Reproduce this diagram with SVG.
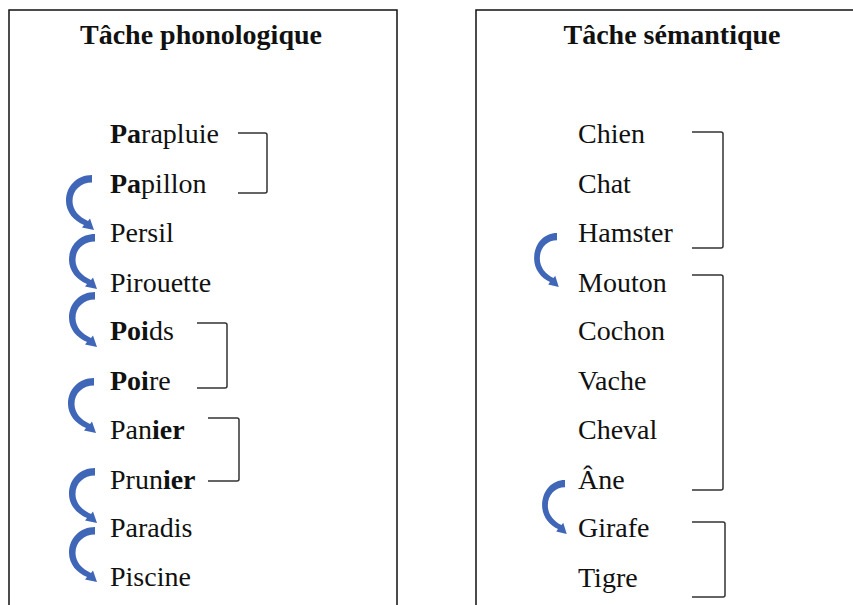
<svg xmlns="http://www.w3.org/2000/svg" xmlns:xlink="http://www.w3.org/1999/xlink" width="853" height="605" viewBox="0 0 853 605">
<style>
.box{fill:none;stroke:#111;stroke-width:1.5}
text{font-family:"Liberation Serif","Tinos","Noto Serif","DejaVu Serif",serif;font-size:28px;fill:#111}
.title{font-weight:bold;text-anchor:middle}
.b{font-weight:bold}
.br{fill:none;stroke:#333;stroke-width:1.5;stroke-linejoin:round}
.arr{fill:#4066b8}
</style>
<defs>
<path id="curl" d="M 0 0 C -15 0 -26 11 -26 26 C -26 37 -18 46 -8 50 L -10 52.6 L 2 55 L -2 43.6 L -4 46 C -13 42 -19.5 35 -19.5 26 C -19.5 15 -11 7.5 0 7.5 Z"/>
</defs>
<rect width="853" height="605" fill="#fff"/>
<g id="box-phono"><path class="box" d="M9,610 V10 H397 V610"/></g>
<g id="box-sem"><path class="box" d="M476,610 V10 H860"/></g>
<g id="title-phono"><text class="title" x="201" y="44" font-family="Liberation Serif, serif">Tâche phonologique</text></g>
<g id="title-sem"><text class="title" x="672" y="44" font-family="Liberation Serif, serif">Tâche sémantique</text></g>

<g id="parapluie"><text x="110" y="143"><tspan class="b">Pa</tspan>rapluie</text></g>
<g id="papillon"><text x="110" y="193"><tspan class="b">Pa</tspan>pillon</text></g>
<g id="persil"><text x="110" y="242">Persil</text></g>
<g id="pirouette"><text x="110" y="292">Pirouette</text></g>
<g id="poids"><text x="110" y="340"><tspan class="b">Poi</tspan>ds</text></g>
<g id="poire"><text x="110" y="390"><tspan class="b">Poi</tspan>re</text></g>
<g id="panier"><text x="110" y="439">Pan<tspan class="b">ier</tspan></text></g>
<g id="prunier"><text x="110" y="489">Prun<tspan class="b">ier</tspan></text></g>
<g id="paradis"><text x="110" y="537">Paradis</text></g>
<g id="piscine"><text x="110" y="586">Piscine</text></g>

<g id="chien"><text x="578" y="143">Chien</text></g>
<g id="chat"><text x="578" y="193">Chat</text></g>
<g id="hamster"><text x="578" y="242">Hamster</text></g>
<g id="mouton"><text x="578" y="292">Mouton</text></g>
<g id="cochon"><text x="578" y="340">Cochon</text></g>
<g id="vache"><text x="578" y="390">Vache</text></g>
<g id="cheval"><text x="578" y="439">Cheval</text></g>
<g id="ane"><text x="578" y="489">Âne</text></g>
<g id="girafe"><text x="578" y="537">Girafe</text></g>
<g id="tigre"><text x="578" y="587">Tigre</text></g>

<g id="connectors">
<path class="br" d="M238,133 H265 Q267,133 267,135 V191 Q267,193 265,193 H238"/>
<path class="br" d="M197,323 H225 Q227,323 227,325 V386 Q227,388 225,388 H197"/>
<path class="br" d="M208,418 H237 Q239,418 239,420 V479 Q239,481 237,481 H208"/>
<path class="br" d="M692,132 H721 Q723,132 723,134 V246 Q723,248 721,248 H692"/>
<path class="br" d="M692,275 H721 Q723,275 723,277 V488 Q723,490 721,490 H692"/>
<path class="br" d="M692,522 H723 Q725,522 725,524 V595 Q725,597 723,597 H692"/>
<use class="arr" xlink:href="#curl" href="#curl" transform="translate(92,175)"/>
<use class="arr" xlink:href="#curl" href="#curl" transform="translate(95,234)"/>
<use class="arr" xlink:href="#curl" href="#curl" transform="translate(95,292)"/>
<use class="arr" xlink:href="#curl" href="#curl" transform="translate(94,378)"/>
<use class="arr" xlink:href="#curl" href="#curl" transform="translate(95,468)"/>
<use class="arr" xlink:href="#curl" href="#curl" transform="translate(95,527)"/>
<use class="arr" xlink:href="#curl" href="#curl" transform="translate(557,233) scale(0.88,0.98)"/>
<use class="arr" xlink:href="#curl" href="#curl" transform="translate(565,480) scale(0.88,0.98)"/>
</g>
</svg>
